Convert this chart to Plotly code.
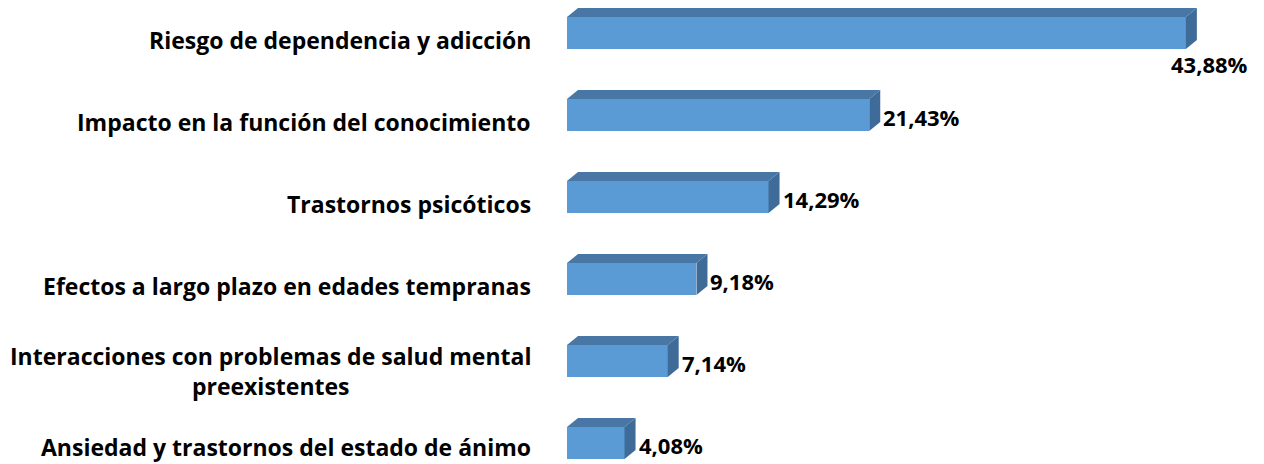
import plotly.graph_objects as go

categories = [
    "Riesgo de dependencia y adicción",
    "Impacto en la función del conocimiento",
    "Trastornos psicóticos",
    "Efectos a largo plazo en edades tempranas",
    "Interacciones con problemas de salud mental<br>preexistentes",
    "Ansiedad y trastornos del estado de ánimo",
]
values = [43.88, 21.43, 14.29, 9.18, 7.14, 4.08]
value_labels = ["43,88%", "21,43%", "14,29%", "9,18%", "7,14%", "4,08%"]

FRONT = "#5B9BD5"
TOP = "#4877A6"
SIDE = "#3E6B98"
FONT = "Open Sans"

W, H = 1264, 464
ML = 567
XMAX = 49.42
PX_X = (W - ML) / XMAX
YMIN, YMAX = -0.402, 5.256
PX_Y = H / (YMAX - YMIN)

bar_h = 32 / PX_Y
dx = 11 / PX_X
dy = 9 / PX_Y

pos = list(range(len(categories)))

fig = go.Figure()
fig.add_trace(go.Bar(
    x=values, y=pos, orientation="h", width=bar_h, base=0,
    marker=dict(color=FRONT, line=dict(width=0)), hoverinfo="skip", showlegend=False,
))

for i, v in zip(pos, values):
    top = i - bar_h / 2
    bot = i + bar_h / 2
    # top face
    fig.add_trace(go.Scatter(
        x=[0, v, v + dx, dx, 0], y=[top, top, top - dy, top - dy, top],
        fill="toself", fillcolor=TOP, mode="lines", line=dict(width=0, color=TOP),
        hoverinfo="skip", showlegend=False,
    ))
    # side face
    fig.add_trace(go.Scatter(
        x=[v, v + dx, v + dx, v, v], y=[top, top - dy, bot - dy, bot, top],
        fill="toself", fillcolor=SIDE, mode="lines", line=dict(width=0, color=SIDE),
        hoverinfo="skip", showlegend=False,
    ))

annotations = []
n = len(categories)
for i, (c, v, lab) in enumerate(zip(categories, values, value_labels)):
    if "<br>" in c:
        ys = -10
    elif i == n - 1:
        ys = -4
    else:
        ys = -7
    annotations.append(dict(
        x=0, y=i, xref="x", yref="y", text=c, showarrow=False,
        xanchor="right", yanchor="middle", align="center", xshift=-34,
        yshift=ys,
        font=dict(family=FONT, size=23, color="#000000", weight="bold"),
    ))
    if i == 0:
        annotations.append(dict(
            x=v + dx, y=i + bar_h / 2, xref="x", yref="y", text=lab, showarrow=False,
            xanchor="center", yanchor="top", xshift=13, yshift=2,
            font=dict(family=FONT, size=22, color="#000000", weight="bold"),
        ))
    else:
        annotations.append(dict(
            x=v + dx, y=i, xref="x", yref="y", text=lab, showarrow=False,
            xanchor="left", yanchor="middle", xshift=1, yshift=-2,
            font=dict(family=FONT, size=22, color="#000000", weight="bold"),
        ))

fig.update_layout(
    width=W, height=H,
    margin=dict(l=ML, r=0, t=0, b=0, pad=0),
    paper_bgcolor="white", plot_bgcolor="white",
    xaxis=dict(range=[0, XMAX], visible=False, fixedrange=True),
    yaxis=dict(range=[YMAX, YMIN], visible=False, fixedrange=True),
    annotations=annotations,
    bargap=0,
)

fig.write_html(
    "out.html",
    config={"displayModeBar": False},
    post_script="document.body.style.margin='0';document.body.style.overflow='hidden';",
)
